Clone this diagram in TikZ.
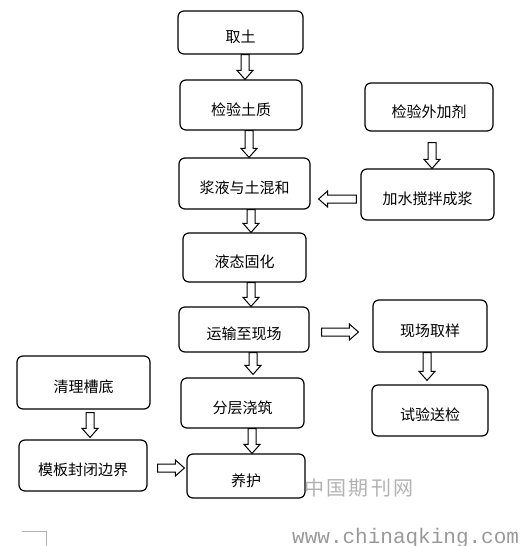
\documentclass[tikz,border=0pt]{standalone}
\usepackage{fontspec}
\newfontfamily\cjk{Noto Sans CJK SC}
\newfontfamily\wmfont[LetterSpace=12]{Noto Sans CJK SC}
\newfontfamily\markfont{Liberation Mono}
\usepackage{tikz}
\usetikzlibrary{positioning,calc}

\tikzset{
    stepbox/.style={draw, rounded corners=6pt, line width=1.2pt, inner sep=0pt,
        font=\cjk\fontsize{15}{18}\selectfont, text height=20pt, text depth=0pt},
    blockarrow/.style={draw, line width=1pt, fill=white, line join=miter},
}

% hollow block arrow: [end gap]{start}{|- or -|}{target}
\newcommand{\hollowarrow}[4][0pt]{%
    \coordinate (ha-s) at (#2);
    \coordinate (ha-z) at (ha-s #3 #4);
    \coordinate (ha-e) at ($(ha-z)!#1!(ha-s)$);
    \coordinate (ha-b) at ($(ha-e)!9pt!(ha-s)$);
    \draw[blockarrow] ($(ha-s)!4pt!90:(ha-e)$) -- ($(ha-b)!4pt!-90:(ha-s)$) -- ($(ha-b)!8pt!-90:(ha-s)$)
        -- (ha-e) -- ($(ha-b)!8pt!90:(ha-s)$) -- ($(ha-b)!4pt!90:(ha-s)$) -- ($(ha-s)!4pt!-90:(ha-e)$) -- cycle;
}

\begin{document}
\begin{tikzpicture}[x=1pt, y=-1pt]
    \useasboundingbox (0,0) rectangle (523,546);

    % main line
    \node[stepbox, minimum width=125pt, minimum height=43pt] (soil) at (240.5,32.5) {取土};
    \node[stepbox, minimum width=122pt, minimum height=50pt] (test) at (241,105) {检验土质};
    \node[stepbox, minimum width=131pt, minimum height=51pt] (blend) at (244.5,183.5) {浆液与土混和};
    \node[stepbox, minimum width=123pt, minimum height=49pt] (solid) at (244.5,257.5) {液态固化};
    \node[stepbox, minimum width=130pt, minimum height=45pt] (transport) at (244,329.5) {运输至现场};
    \node[stepbox, minimum width=123pt, minimum height=50pt] (pour) at (242.5,403) {分层浇筑};
    \node[stepbox, minimum width=118pt, minimum height=44pt] (cure) at (246,476) {养护};

    % additive branch
    \node[stepbox, minimum width=128pt, minimum height=48pt] (additive) at (429,107) {检验外加剂};
    \node[stepbox, minimum width=133pt, minimum height=51pt] (mixwater) at (427.5,194.5) {加水搅拌成浆};

    % sampling branch
    \node[stepbox, minimum width=114pt, minimum height=52pt] (sample) at (430,326) {现场取样};
    \node[stepbox, minimum width=116pt, minimum height=51pt] (lab) at (430,410.5) {试验送检};

    % trench branch
    \node[stepbox, minimum width=133pt, minimum height=53pt] (clean) at (83.5,382.5) {清理槽底};
    \node[stepbox, minimum width=128pt, minimum height=51pt] (form) at (83,465.5) {模板封闭边界};

    % arrows
    \hollowarrow{[xshift=4.5pt]soil.south}{|-}{test.north}
    \hollowarrow{[xshift=8pt]test.south}{|-}{blend.north}
    \hollowarrow{[xshift=6.5pt]blend.south}{|-}{solid.north}
    \hollowarrow{[xshift=6.5pt]solid.south}{|-}{transport.north}
    \hollowarrow[3pt]{[xshift=9pt]transport.south}{|-}{pour.north}
    \hollowarrow{[xshift=9.5pt]pour.south}{|-}{cure.north}
    \hollowarrow{[xshift=3pt, yshift=-11pt]additive.south}{|-}{mixwater.north}
    \hollowarrow[8pt]{[xshift=-4pt, yshift=-4.5pt]mixwater.west}{-|}{blend.east}
    \hollowarrow[14pt]{[xshift=12pt, yshift=-2.5pt]transport.east}{-|}{sample.west}
    \hollowarrow[4pt]{[xshift=-3pt]sample.south}{|-}{lab.north}
    \hollowarrow[2pt]{[xshift=6.5pt, yshift=-3pt]clean.south}{|-}{form.north}
    \hollowarrow[2pt]{[xshift=10pt, yshift=-2.5pt]form.east}{-|}{cure.west}

    % watermark
    \node[font=\wmfont\fontsize{20}{24}\selectfont, text=gray!60] (wmcn) at (359,488) {中国期刊网};
    \node[font=\markfont\fontsize{21}{24}\selectfont, text=gray!80, anchor=base west, inner sep=0pt] (wmurl) at (292,543) {www.chinaqking.com};
    \draw[gray!60, line width=0.6pt] (22,531) -- (46,531) -- (46,546);
\end{tikzpicture}
\end{document}
